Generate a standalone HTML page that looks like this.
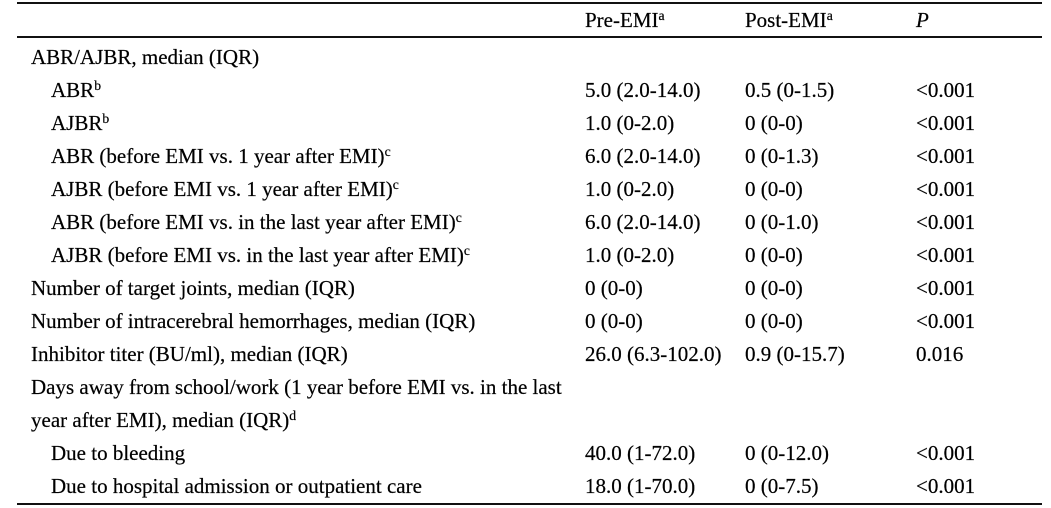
<!DOCTYPE html>
<html>
<head>
<meta charset="utf-8">
<style>
  html, body { margin:0; padding:0; background:#fff; }
  body { width:1051px; height:508px; position:relative; overflow:hidden;
         font-family:"Liberation Serif", "Times New Roman", serif; color:#000; }
  .t { position:absolute; white-space:nowrap; font-size:21px; line-height:21px; -webkit-text-stroke:0.2px #000; }
  .t sup { font-size:0.65em; position:relative; top:-0.5em; vertical-align:baseline; line-height:0; }
  .rule { position:absolute; left:17px; width:1025px; height:2px; background:#111; }
</style>
</head>
<body>
<div class="rule" style="top:2px;"></div>
<div class="rule" style="top:36px;"></div>
<div class="rule" style="top:503px;"></div>

<div class="t" style="left:585px; top:10px;">Pre-EMI<sup>a</sup></div>
<div class="t" style="left:745px; top:10px;">Post-EMI<sup>a</sup></div>
<div class="t" style="left:916px; top:10px;"><i>P</i></div>

<div class="t" style="left:31px; top:47px;">ABR/AJBR, median (IQR)</div>

<div class="t" style="left:51px; top:80px;">ABR<sup>b</sup></div>
<div class="t" style="left:585px; top:80px;">5.0 (2.0-14.0)</div>
<div class="t" style="left:745px; top:80px;">0.5 (0-1.5)</div>
<div class="t" style="left:916px; top:80px;">&lt;0.001</div>

<div class="t" style="left:51px; top:113px;">AJBR<sup>b</sup></div>
<div class="t" style="left:585px; top:113px;">1.0 (0-2.0)</div>
<div class="t" style="left:745px; top:113px;">0 (0-0)</div>
<div class="t" style="left:916px; top:113px;">&lt;0.001</div>

<div class="t" style="left:51px; top:146px;">ABR (before EMI vs. 1 year after EMI)<sup>c</sup></div>
<div class="t" style="left:585px; top:146px;">6.0 (2.0-14.0)</div>
<div class="t" style="left:745px; top:146px;">0 (0-1.3)</div>
<div class="t" style="left:916px; top:146px;">&lt;0.001</div>

<div class="t" style="left:51px; top:179px;">AJBR (before EMI vs. 1 year after EMI)<sup>c</sup></div>
<div class="t" style="left:585px; top:179px;">1.0 (0-2.0)</div>
<div class="t" style="left:745px; top:179px;">0 (0-0)</div>
<div class="t" style="left:916px; top:179px;">&lt;0.001</div>

<div class="t" style="left:51px; top:212px;">ABR (before EMI vs. in the last year after EMI)<sup>c</sup></div>
<div class="t" style="left:585px; top:212px;">6.0 (2.0-14.0)</div>
<div class="t" style="left:745px; top:212px;">0 (0-1.0)</div>
<div class="t" style="left:916px; top:212px;">&lt;0.001</div>

<div class="t" style="left:51px; top:245px;">AJBR (before EMI vs. in the last year after EMI)<sup>c</sup></div>
<div class="t" style="left:585px; top:245px;">1.0 (0-2.0)</div>
<div class="t" style="left:745px; top:245px;">0 (0-0)</div>
<div class="t" style="left:916px; top:245px;">&lt;0.001</div>

<div class="t" style="left:31px; top:278px;">Number of target joints, median (IQR)</div>
<div class="t" style="left:585px; top:278px;">0 (0-0)</div>
<div class="t" style="left:745px; top:278px;">0 (0-0)</div>
<div class="t" style="left:916px; top:278px;">&lt;0.001</div>

<div class="t" style="left:31px; top:311px;">Number of intracerebral hemorrhages, median (IQR)</div>
<div class="t" style="left:585px; top:311px;">0 (0-0)</div>
<div class="t" style="left:745px; top:311px;">0 (0-0)</div>
<div class="t" style="left:916px; top:311px;">&lt;0.001</div>

<div class="t" style="left:31px; top:344px;">Inhibitor titer (BU/ml), median (IQR)</div>
<div class="t" style="left:585px; top:344px;">26.0 (6.3-102.0)</div>
<div class="t" style="left:745px; top:344px;">0.9 (0-15.7)</div>
<div class="t" style="left:916px; top:344px;">0.016</div>

<div class="t" style="left:31px; top:377px;">Days away from school/work (1 year before EMI vs. in the last</div>

<div class="t" style="left:31px; top:410px;">year after EMI), median (IQR)<sup>d</sup></div>

<div class="t" style="left:51px; top:443px;">Due to bleeding</div>
<div class="t" style="left:585px; top:443px;">40.0 (1-72.0)</div>
<div class="t" style="left:745px; top:443px;">0 (0-12.0)</div>
<div class="t" style="left:916px; top:443px;">&lt;0.001</div>

<div class="t" style="left:51px; top:476px;">Due to hospital admission or outpatient care</div>
<div class="t" style="left:585px; top:476px;">18.0 (1-70.0)</div>
<div class="t" style="left:745px; top:476px;">0 (0-7.5)</div>
<div class="t" style="left:916px; top:476px;">&lt;0.001</div>
</body>
</html>
